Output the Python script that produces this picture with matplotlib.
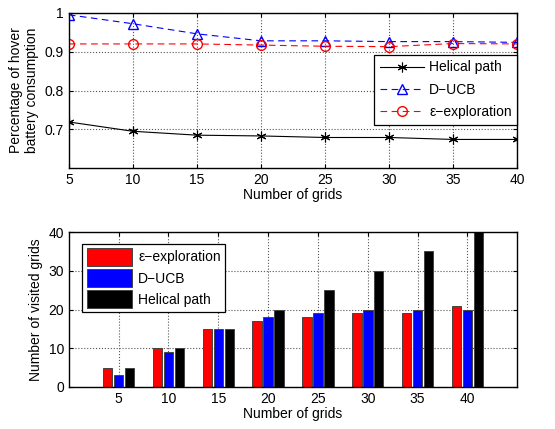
import numpy as np
import matplotlib
matplotlib.use("Agg")
import matplotlib.pyplot as plt

plt.rcParams["font.family"] = ["Liberation Sans", "DejaVu Sans"]
plt.rcParams["font.size"] = 10
plt.rcParams["xtick.direction"] = "in"
plt.rcParams["ytick.direction"] = "in"

grids = [5, 10, 15, 20, 25, 30, 35, 40]

# battery consumption
helical_batt = [0.719, 0.695, 0.685, 0.683, 0.679, 0.679, 0.674, 0.674]
ducb_batt = [0.995, 0.972, 0.946, 0.928, 0.928, 0.926, 0.926, 0.924]
eps_batt = [0.920, 0.920, 0.920, 0.917, 0.914, 0.913, 0.921, 0.920]

# visited grids
eps_visited = [5, 10, 15, 17, 18, 19, 19, 21]
ducb_visited = [3, 9, 15, 18, 19, 20, 20, 20]
helical_visited = [5, 10, 15, 20, 25, 30, 35, 40]

fig = plt.figure(figsize=(5.55, 4.29), dpi=100)

# Top plot
ax1 = fig.add_axes([0.124, 0.608, 0.808, 0.362])
ax1.plot(grids, helical_batt, color="black", lw=0.8, marker=(6, 2, 0), ms=7, mew=0.8,
         label="Helical path")
ax1.plot(grids, ducb_batt, color="blue", lw=0.8, ls=(0, (6, 4)), marker="^", ms=7,
         mfc="none", label="D\u2212UCB")
ax1.plot(grids, eps_batt, color="red", lw=0.8, ls=(0, (6, 4)), marker="o", ms=7,
         mfc="none", label="\u03b5\u2212exploration")
ax1.set_xlim(5, 40)
ax1.set_ylim(0.6, 1.0)
ax1.set_xticks(grids)
ax1.set_yticks([0.7, 0.8, 0.9, 1.0])
ax1.set_yticklabels(["0.7", "0.8", "0.9", "1"])
ax1.grid(True, ls=":", color="#555555", lw=0.8)
ax1.set_xlabel("Number of grids", labelpad=1)
ax1.set_ylabel("Percentage of hover\nbattery consumption", labelpad=4)
leg1 = ax1.legend(loc="lower right", bbox_to_anchor=(1.0, 0.28), borderaxespad=0,
                  fancybox=False, edgecolor="black", framealpha=1, handlelength=3.2,
                  handletextpad=0.35, borderpad=0.4, labelspacing=0.6)
leg1.get_frame().set_linewidth(0.9)

# Bottom plot
x = np.array(grids, dtype=float)
off = 1.1
w = 0.95
ax2 = fig.add_axes([0.124, 0.098, 0.808, 0.361])
ax2.bar(x - off, eps_visited, w, color="red", edgecolor="#444444", lw=0.7, label="\u03b5\u2212exploration")
ax2.bar(x, ducb_visited, w, color="blue", edgecolor="#444444", lw=0.7, label="D\u2212UCB")
ax2.bar(x + off, helical_visited, w, color="black", edgecolor="#444444", lw=0.7, label="Helical path")
ax2.set_xlim(0, 45)
ax2.set_ylim(0, 40)
ax2.set_xticks(grids)
ax2.set_yticks([0, 10, 20, 30, 40])
ax2.grid(True, ls=":", color="#555555", lw=0.8)
ax2.set_axisbelow(True)
ax2.set_xlabel("Number of grids", labelpad=1)
ax2.set_ylabel("Number of visited grids", labelpad=4)
leg2 = ax2.legend(loc="upper left", bbox_to_anchor=(0.015, 0.97), fancybox=False,
                  edgecolor="black", framealpha=1, handlelength=3.3, handleheight=1.6,
                  borderpad=0.3, labelspacing=0.25, handletextpad=0.4)
leg2.get_frame().set_linewidth(0.9)

for ax in (ax1, ax2):
    for s in ax.spines.values():
        s.set_linewidth(1.0)
    ax.tick_params(top=True, right=True, length=3)

fig.savefig("out.png", dpi=100)
